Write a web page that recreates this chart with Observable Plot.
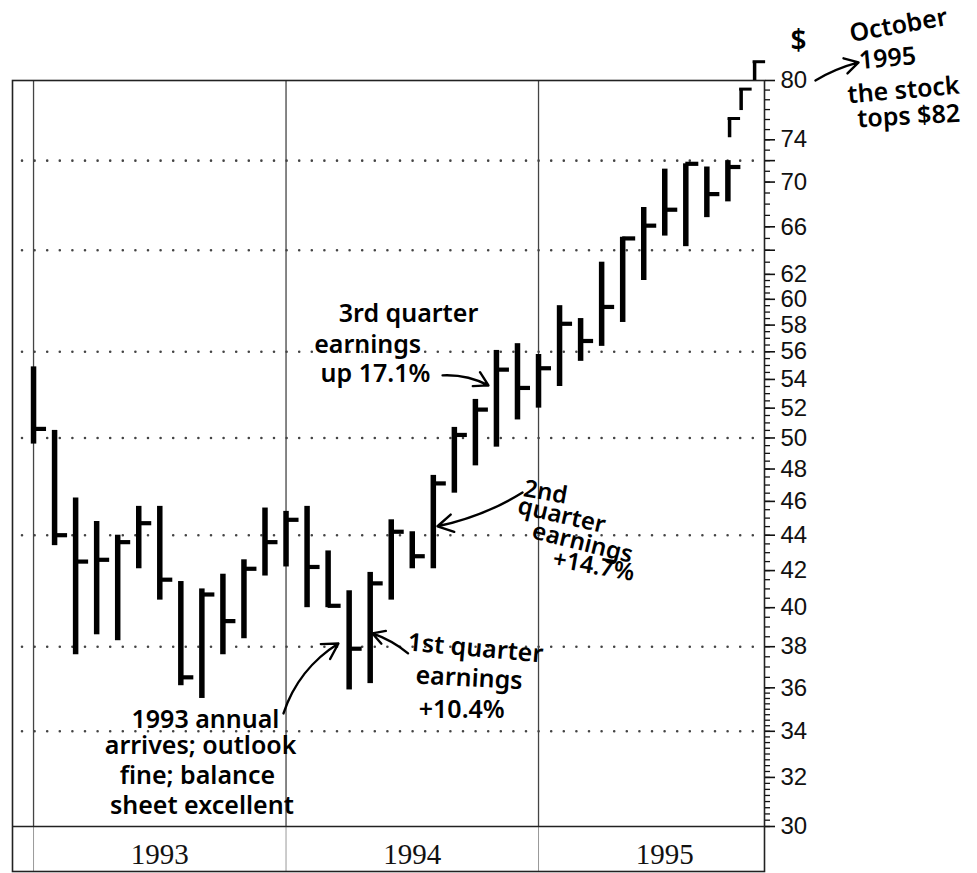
<!DOCTYPE html>
<html><head><meta charset="utf-8">
<script src="https://cdn.jsdelivr.net/npm/d3@7"></script>
<script src="https://cdn.jsdelivr.net/npm/@observablehq/plot@0.6"></script>
<style>html,body{margin:0;padding:0;background:#fff} #chart svg{display:block}</style>
</head><body><div id="chart"></div>
<script>
// Monthly bars, Jan 1993 – Oct 1995 (month index 0 = Jan 1993)
const months = ["Jan 1993","Feb 1993","Mar 1993","Apr 1993","May 1993","Jun 1993","Jul 1993","Aug 1993","Sep 1993","Oct 1993","Nov 1993","Dec 1993",
  "Jan 1994","Feb 1994","Mar 1994","Apr 1994","May 1994","Jun 1994","Jul 1994","Aug 1994","Sep 1994","Oct 1994","Nov 1994","Dec 1994",
  "Jan 1995","Feb 1995","Mar 1995","Apr 1995","May 1995","Jun 1995","Jul 1995","Aug 1995","Sep 1995","Oct 1995"];
const high  = [54.9,50.5,46.2,44.8,44.0,45.7,45.7,41.4,41.0,41.8,42.6,45.6, 45.4,45.7,43.1,40.9,41.9,44.9,44.2,47.6,50.7,52.6,56.1,56.6, 55.8,59.5,58.5,63.0,65.1,67.7,71.2,71.7,71.4,72.0];
const low   = [49.6,43.4,37.6,38.6,38.3,42.1,40.4,36.1,35.5,37.6,38.4,41.7, 42.2,40.0,40.0,35.9,36.2,40.4,42.1,42.1,46.5,48.2,49.4,51.2, 52.0,53.5,55.3,56.4,58.2,61.5,65.2,64.3,66.8,68.2];
const close = [50.6,44.0,42.5,42.6,43.6,44.7,41.5,36.5,40.7,39.3,42.1,43.6, 44.9,42.2,40.1,37.9,41.3,44.2,42.8,47.1,50.2,51.9,54.7,53.4, 54.8,58.1,56.8,59.4,65.0,66.1,67.5,71.7,68.9,71.4];

// Hand-drawn October 1995 extension (stock tops $82), positions in month-index units
const octPos  = [33.08, 33.63, 34.27];
const octHigh = [76.1, 79.1, 82.0];
const octLow  = [74.2, 76.9, 80.0];

// Axes
const years = ["1993","1994","1995"];
const yearStart = [0, 12, 24];
const yearMid = [6, 18, 30];
const labeledTicks = [30,32,34,36,38,40,42,44,46,48,50,52,54,56,58,60,62,66,70,74,80];
const extraMajor = [64, 72];
const gridDots = [34, 38, 44, 50, 56, 64, 72];
const minorTicks = [...d3.range(30, 36, 0.25), ...d3.range(36, 62, 0.5), ...d3.range(62, 80, 1)];

// Annotations (month index, price)
const noteText = ["$","October","1995","the stock","tops $82",
  "3rd quarter","earnings","up 17.1%",
  "2nd","quarter","earnings","+14.7%",
  "1st quarter","earnings","+10.4%",
  "1993 annual","arrives; outlook","fine; balance","sheet excellent"];
const noteX = [36.36,41.11,40.59,41.35,41.59, 17.82,15.88,16.25, 24.33,25.10,26.09,26.62, 21.0,20.7,20.35, 8.17,7.94,7.79,8.0];
const noteY = [84.3,86.0,82.35,78.96,76.30, 58.87,56.47,54.42, 46.55,45.15,43.55,42.25, 37.91,36.45,34.95, 34.53,33.33,32.04,30.80];
const noteRot = [0,-10,-5,-5,-3, 0,0,0, 10,13,14,10, 5,3,0, 0,0,0,0];
const noteSize = [28,25,25,25,25, 25,25,25, 24,24,24,24, 25,25,25, 25,25,25,25];

const arrowX1 = [37.16, 19.44, 23.24, 17.80, 11.88];
const arrowY1 = [80.0, 54.29, 46.54, 37.67, 34.81];
const arrowX2 = [39.21, 21.62, 19.20, 16.11, 14.49];
const arrowY2 = [81.92, 53.58, 44.52, 38.67, 38.16];
const arrowBend = [8, 15, 10, -10, 20];

const bars = months.map((m, i) => ({month: m, i, high: high[i], low: low[i], close: close[i]}));
const oct = octPos.map((p, i) => ({i: p, high: octHigh[i], low: octLow[i]}));
const notes = noteText.map((t, i) => ({text: t, x: noteX[i], y: noteY[i], r: noteRot[i], s: noteSize[i]}));
const arrows = arrowX1.map((x, i) => ({x1: x, y1: arrowY1[i], x2: arrowX2[i], y2: arrowY2[i], bend: arrowBend[i]}));
const majorTicks = [...labeledTicks, ...extraMajor];

const hand = "'Noto Sans', Lato, sans-serif";

const chart = Plot.plot({
  width: 977, height: 873,
  marginLeft: 12, marginRight: 213, marginTop: 80, marginBottom: 47,
  style: {background: "#fff", color: "#111", fontFamily: "'Liberation Sans', sans-serif", overflow: "visible"},
  x: {type: "linear", domain: [-1, 34.74], label: null},
  y: {type: "log", domain: [30, 80], label: null},
  marks: [
    Plot.ruleY(gridDots, {stroke: "#444", strokeWidth: 2.6, strokeDasharray: "0,12.6", strokeLinecap: "round", strokeDashoffset: 2.6}),
    Plot.ruleX(yearStart, {stroke: "#444", strokeWidth: 1.3}),
    Plot.ruleX(yearStart, {y1: 30, y2: 30, insetBottom: -45, stroke: "#999", strokeWidth: 1}),
    Plot.frame({stroke: "#222", strokeWidth: 1.6, insetBottom: -45}),
    Plot.ruleY([30], {stroke: "#222", strokeWidth: 1.6}),
    Plot.axisY(minorTicks, {anchor: "right", tickSize: 5, tickFormat: () => "", label: null, strokeWidth: 1.3}),
    Plot.axisY(majorTicks, {anchor: "right", tickSize: 10, tickPadding: 6, strokeWidth: 1.6, label: null,
      tickFormat: d => labeledTicks.includes(d) ? String(d) : "", fontSize: 24, fontFamily: "'Liberation Sans', sans-serif", fill: "#111"}),
    Plot.axisX(yearMid, {anchor: "bottom", tickSize: 0, tickPadding: 17, label: null,
      tickFormat: d => years[yearMid.indexOf(d)], fontSize: 29, fontFamily: "'Liberation Serif', serif", fill: "#111"}),
    Plot.ruleX(bars, {x: "i", y1: "low", y2: "high", strokeWidth: 5.5, stroke: "#000"}),
    Plot.ruleY(bars, {y: "close", x1: "i", x2: "i", insetRight: -13, strokeWidth: 4.2, stroke: "#000"}),
    Plot.ruleX(oct, {x: "i", y1: "low", y2: "high", strokeWidth: 3.5, stroke: "#000"}),
    Plot.ruleY(oct, {y: "high", x1: "i", x2: "i", insetRight: -11, insetLeft: -1.5, strokeWidth: 3, stroke: "#000"}),
    Plot.text(notes, {x: "x", y: "y", text: "text", rotate: "r", fontSize: "s", fontWeight: 600, fontFamily: hand, fill: "#000"}),
    ...arrows.map(a => Plot.arrow([a], {x1: "x1", y1: "y1", x2: "x2", y2: "y2", bend: a.bend, stroke: "#000", strokeWidth: 2.4, headLength: 11}))
  ]
});
document.getElementById("chart").append(chart);
</script>
</body></html>
